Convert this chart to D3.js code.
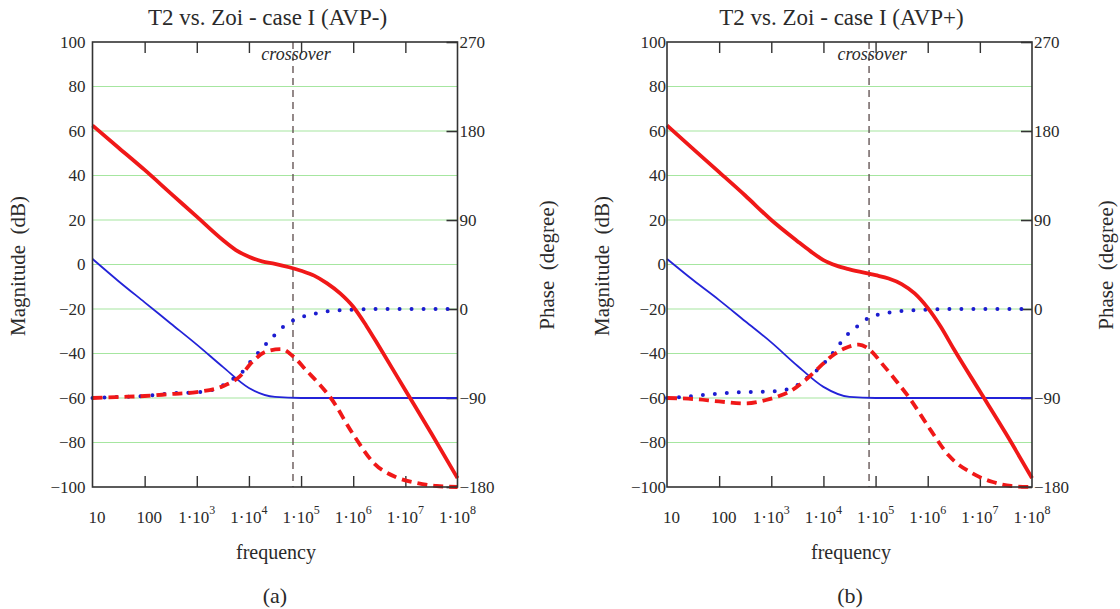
<!DOCTYPE html>
<html>
<head>
<meta charset="utf-8">
<script src="https://cdn.jsdelivr.net/npm/d3@7"></script>
<style>
  body { margin: 0; background: #fff; }
  svg text { font-family: "Liberation Serif", "Times New Roman", serif; fill: #2a2a2a; }
</style>
</head>
<body>
<script>
// x ticks (frequency, log scale)
const freqTicks = [1e1, 1e2, 1e3, 1e4, 1e5, 1e6, 1e7, 1e8];
const freqLabels = ["10", "100", "1·10^3", "1·10^4", "1·10^5", "1·10^6", "1·10^7", "1·10^8"];
const magTicks = [100, 80, 60, 40, 20, 0, -20, -40, -60, -80, -100];
const gridLevels = [80, 60, 40, 20, 0, -20, -40, -60, -80];
const phaseTicks = [270, 180, 90, 0, -90, -180];

// blue magnitude on half decades
const magFreq = [1e1, 3.16e1, 1e2, 3.16e2, 1e3, 3.16e3, 1e4, 3.16e4, 1e5, 3.16e5, 1e6, 3.16e6, 1e7, 3.16e7, 1e8];
// red magnitude, finer around the knees
const redMagFreq = [1e1, 3.16e1, 1e2, 3.16e2, 1e3, 3.16e3, 5.62e3, 1e4, 1.78e4, 3.16e4, 1e5, 1.78e5, 3.16e5, 5.62e5, 1e6, 1.78e6, 3.16e6, 1e7, 3.16e7, 1e8];

// (a) AVP-
const aRedMag = [62.5, 52.5, 42.5, 32, 21.5, 11, 6.5, 3.5, 1.4, 0.3, -2.8, -5, -8.5, -13, -19, -27.5, -37, -56.5, -76, -96];
const aBlueMag = [2.5, -7.5, -17, -26.5, -36, -46, -55.5, -59.5, -60, -60, -60, -60, -60, -60, -60];
const aBluePhFreq = [10, 31.6, 100, 316, 1000, 2512, 4266, 7079, 10965, 17378, 28184, 47863, 79433, 144544, 239883, 724436, 3.16e6, 1e7, 1e8];
const aBluePh = [-90, -89, -88, -85.3, -84.3, -80, -72.8, -65, -52.6, -40.5, -28.6, -17.1, -10.3, -6, -3.4, -1, 0, 0, 0];
const aRedPhFreq = [10, 31.6, 100, 316, 1000, 3160, 6610, 11750, 21380, 41690, 70790, 125900, 223900, 371500, 977200, 2.51e6, 6.61e6, 1.7e7, 3.98e7, 1e8];
const aRedPh = [-90, -89, -88, -86, -84, -78, -68.4, -53.3, -43, -40.5, -48, -62, -76, -90, -126, -156, -170, -176, -179, -180];
const aCrossover = 7e4;

// (b) AVP+
const bRedMag = [62.5, 52, 41.5, 31, 20, 10.5, 6, 2, -0.5, -2.2, -4.8, -6.3, -8.8, -13, -19.5, -28, -38, -57, -76, -96];
const bBlueMag = [2.5, -7, -16, -25.5, -35, -45.5, -55, -59.5, -60, -60, -60, -60, -60, -60, -60];
const bBluePhFreq = [10, 31.6, 100, 316, 794, 2512, 4074, 6761, 11480, 17780, 27540, 45710, 77620, 251200, 707900, 3.16e6, 1e7, 1e8];
const bBluePh = [-90, -88, -85.5, -84, -83.7, -80, -72.4, -64, -52, -39.8, -27, -17, -8.3, -2.7, -1, 0, 0, 0];
const bRedPhFreq = [10, 31.6, 100, 316, 794, 1413, 2512, 4467, 7943, 14130, 25120, 47860, 72440, 141300, 251200, 446700, 1.122e6, 2.512e6, 7.079e6, 1.778e7, 3.981e7, 1e8];
const bRedPh = [-90, -91, -93.5, -95.5, -92, -88, -82, -72, -60, -48, -40, -36, -40, -57, -73, -90, -122, -148, -166, -175, -179, -180];
const bCrossover = 7.5e4;

const panels = [
  { title: "T2 vs. Zoi - case I (AVP-)", tag: "(a)", left: 92.5, right: 457.5, labelPad: 7,
    titleX: 267.5, freqX: 276, tagX: 275, magLabelX: 25, phLabelX: 554,
    redMag: aRedMag, blueMag: aBlueMag, bluePhF: aBluePhFreq, bluePh: aBluePh, redPhF: aRedPhFreq, redPh: aRedPh, cross: aCrossover },
  { title: "T2 vs. Zoi - case I (AVP+)", tag: "(b)", left: 667, right: 1032, labelPad: 1,
    titleX: 841.5, freqX: 851, tagX: 850, magLabelX: 609, phLabelX: 1113,
    redMag: bRedMag, blueMag: bBlueMag, bluePhF: bBluePhFreq, bluePh: bBluePh, redPhF: bRedPhFreq, redPh: bRedPh, cross: bCrossover }
];

const W = 1120, H = 609;
const plotTop = 42, plotBottom = 487;
const frameColor = "#333";

const svg = d3.select("body").append("svg")
  .attr("width", W)
  .attr("height", H);

svg.append("rect").attr("width", W).attr("height", H).attr("fill", "#fff");

function drawPanel(p) {
  const g = svg.append("g");
  const x = d3.scaleLog().domain([1e1, 1e8]).range([p.left, p.right]);
  const yMag = d3.scaleLinear().domain([-100, 100]).range([plotBottom, plotTop]);
  const yPh = d3.scaleLinear().domain([-180, 270]).range([plotBottom, plotTop]);

  // grid
  g.selectAll(".grid").data(gridLevels).enter().append("line")
    .attr("x1", p.left).attr("x2", p.right)
    .attr("y1", d => yMag(d)).attr("y2", d => yMag(d))
    .attr("stroke", "#a6e6a0").attr("stroke-width", 1.2);

  // inner ticks at bottom and top
  const inner = freqTicks.slice(1, -1);
  g.append("g").attr("transform", `translate(0,${plotBottom})`)
    .call(d3.axisBottom(x).tickValues(inner).tickSize(-11).tickFormat(""))
    .call(a => a.select(".domain").remove())
    .selectAll("line").attr("stroke", frameColor).attr("stroke-width", 1.4);
  g.append("g").attr("transform", `translate(0,${plotTop})`)
    .call(d3.axisTop(x).tickValues(inner).tickSize(-11).tickFormat(""))
    .call(a => a.select(".domain").remove())
    .selectAll("line").attr("stroke", frameColor).attr("stroke-width", 1.4);

  // left magnitude labels
  g.append("g").attr("transform", `translate(${p.left},0)`)
    .call(d3.axisLeft(yMag).tickValues(magTicks).tickSize(0).tickPadding(p.labelPad))
    .call(a => a.select(".domain").remove())
    .selectAll("text").style("font-size", "17px").attr("fill", "#2a2a2a");

  // right phase axis
  g.append("g").attr("transform", `translate(${p.right},0)`)
    .call(d3.axisRight(yPh).tickValues(phaseTicks).tickSize(-11).tickPadding(2))
    .call(a => a.select(".domain").remove())
    .call(a => a.selectAll("line").attr("stroke", frameColor).attr("stroke-width", 1.6))
    .selectAll("text").style("font-size", "17px").attr("fill", "#2a2a2a");

  // frequency labels
  freqTicks.forEach((f, i) => {
    const parts = freqLabels[i].split("^");
    const t = g.append("text")
      .attr("x", x(f) + (parts.length === 1 ? 4.5 : 0))
      .attr("y", 523)
      .attr("text-anchor", "middle")
      .style("font-size", "17px");
    t.append("tspan").text(parts[0]);
    if (parts.length > 1) {
      t.append("tspan").attr("dy", -9).style("font-size", "12px").text(parts[1]);
    }
  });

  // crossover marker
  g.append("line")
    .attr("x1", x(p.cross)).attr("x2", x(p.cross))
    .attr("y1", plotTop).attr("y2", plotBottom)
    .attr("stroke", "#5a4a4a").attr("stroke-width", 1.3)
    .attr("stroke-dasharray", "7,5");
  g.append("text")
    .attr("x", x(p.cross) + 3).attr("y", 60)
    .attr("text-anchor", "middle")
    .style("font-size", "18px").style("font-style", "italic")
    .attr("fill", "#505050")
    .text("crossover");

  const blueLine = d3.line().x((d, i) => x(magFreq[i])).y(d => yMag(d)).curve(d3.curveMonotoneX);
  const redLine = d3.line().x((d, i) => x(redMagFreq[i])).y(d => yMag(d)).curve(d3.curveMonotoneX);

  // blue magnitude (thin)
  g.append("path").datum(p.blueMag)
    .attr("d", blueLine)
    .attr("fill", "none").attr("stroke", "#2323d8").attr("stroke-width", 1.8);

  // blue phase (dotted)
  g.append("path").datum(p.bluePh)
    .attr("d", d3.line().x((d, i) => x(p.bluePhF[i])).y(d => yPh(d)).curve(d3.curveMonotoneX))
    .attr("fill", "none").attr("stroke", "#1c1cd0").attr("stroke-width", 4)
    .attr("stroke-linecap", "round").attr("stroke-dasharray", "0,12");

  // red phase (dashed)
  g.append("path").datum(p.redPh)
    .attr("d", d3.line().x((d, i) => x(p.redPhF[i])).y(d => yPh(d)).curve(d3.curveMonotoneX))
    .attr("fill", "none").attr("stroke", "#f01818").attr("stroke-width", 3.8)
    .attr("stroke-dasharray", "10,6");

  // red magnitude (thick)
  g.append("path").datum(p.redMag)
    .attr("d", redLine)
    .attr("fill", "none").attr("stroke", "#f01818").attr("stroke-width", 3.8);

  // frame
  g.append("rect")
    .attr("x", p.left).attr("y", plotTop)
    .attr("width", p.right - p.left).attr("height", plotBottom - plotTop)
    .attr("fill", "none").attr("stroke", frameColor).attr("stroke-width", 1.6);

  // titles and axis names
  g.append("text").attr("x", p.titleX).attr("y", 25).attr("text-anchor", "middle")
    .style("font-size", "23px").text(p.title);
  g.append("text").attr("x", p.freqX).attr("y", 559).attr("text-anchor", "middle")
    .style("font-size", "20px").text("frequency");
  g.append("text").attr("x", p.tagX).attr("y", 603).attr("text-anchor", "middle")
    .style("font-size", "22px").text(p.tag);
  g.append("text")
    .attr("transform", `translate(${p.magLabelX},266) rotate(-90)`)
    .attr("text-anchor", "middle").style("white-space", "pre")
    .style("font-size", "21px").text("Magnitude  (dB)");
  g.append("text")
    .attr("transform", `translate(${p.phLabelX},265) rotate(-90)`)
    .attr("text-anchor", "middle").style("white-space", "pre")
    .style("font-size", "21px").text("Phase  (degree)");
}

panels.forEach(drawPanel);
</script>
</body>
</html>
